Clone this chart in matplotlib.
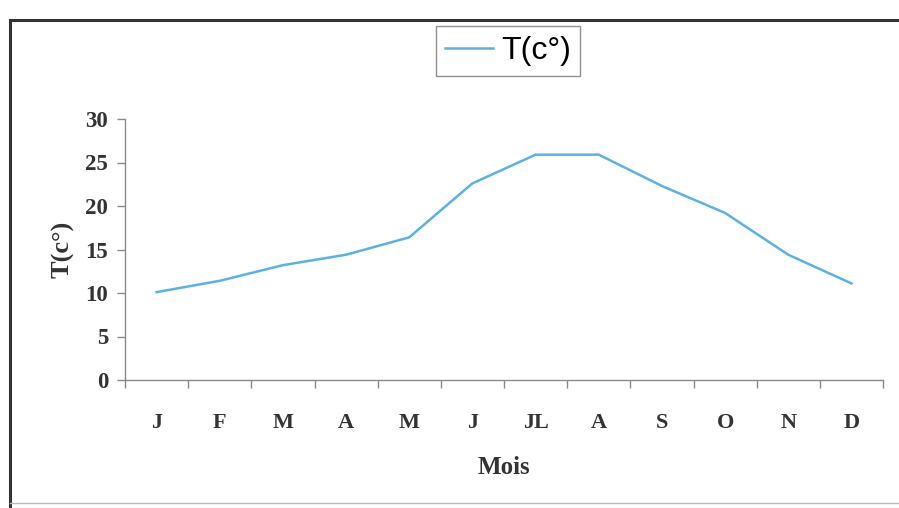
import matplotlib
matplotlib.use("Agg")
import matplotlib.pyplot as plt
from matplotlib.lines import Line2D

# Monthly mean temperature
months = ["J", "F", "M", "A", "M", "J", "JL", "A", "S", "O", "N", "D"]
temps = [10.1, 11.4, 13.2, 14.4, 16.4, 22.6, 25.9, 25.9, 22.3, 19.2, 14.4, 11.1]
y_ticks = [0, 5, 10, 15, 20, 25, 30]

serif = ["Liberation Serif", "DejaVu Serif"]
line_color = "#5cb1de"
axis_color = "#8a8a8a"
text_color = "#333333"

fig = plt.figure(figsize=(8.99, 5.08), dpi=100)
fig.patch.set_facecolor("white")

# outer frame (left and top edges, bottom faint)
fig.add_artist(Line2D([10 / 899, 10 / 899], [0.0, 1 - 20 / 508], transform=fig.transFigure,
                      color="#333333", lw=2.2))
fig.add_artist(Line2D([10 / 899, 1.0], [1 - 20 / 508, 1 - 20 / 508], transform=fig.transFigure,
                      color="#333333", lw=2.2))
fig.add_artist(Line2D([10 / 899, 1.0], [1 - 503 / 508, 1 - 503 / 508], transform=fig.transFigure,
                      color="#bbbbbb", lw=1.0))

ax = fig.add_axes([125 / 899, 1 - 380 / 508, (883 - 125) / 899, (380 - 119) / 508])
x = list(range(len(months)))
ax.plot(x, temps, color=line_color, lw=1.8, label="T(c°)", solid_joinstyle="round")

ax.set_xlim(-0.5, len(months) - 0.5)
ax.set_ylim(0, 30)
ax.set_yticks(y_ticks)
ax.set_yticklabels([str(v) for v in y_ticks], fontfamily=serif, fontweight="bold",
                   fontsize=16.5, color=text_color)

# category labels centered, tick marks on boundaries
ax.set_xticks([i - 0.5 for i in range(len(months) + 1)])
ax.set_xticklabels([])
ax.set_xticks(x, minor=True)
ax.set_xticklabels(months, minor=True, fontfamily=serif, fontweight="bold",
                   fontsize=16, color=text_color)
ax.tick_params(axis="x", which="minor", length=0, pad=24)
ax.tick_params(axis="x", which="major", length=6, width=1, color=axis_color, direction="out")
ax.tick_params(axis="y", length=6, width=1, color=axis_color, direction="out", pad=6)

for s in ["top", "right"]:
    ax.spines[s].set_visible(False)
for s in ["left", "bottom"]:
    ax.spines[s].set_color(axis_color)
    ax.spines[s].set_linewidth(1.0)

ax.set_ylabel("T(c°)", fontfamily=serif, fontweight="bold", fontsize=19, labelpad=8,
              color=text_color)
ax.set_xlabel("Mois", fontfamily=serif, fontweight="bold", fontsize=18, labelpad=16,
              color=text_color)

leg = fig.legend(handles=ax.get_lines(), loc="center", bbox_to_anchor=(508 / 899, 1 - 51 / 508),
                 prop={"family": "Liberation Sans", "size": 23}, frameon=True, fancybox=False,
                 handlelength=1.5, handletextpad=0.25, borderpad=0.3, edgecolor="#777777")
leg.get_frame().set_linewidth(1.0)

fig.savefig("out.png", dpi=100, facecolor="white")
